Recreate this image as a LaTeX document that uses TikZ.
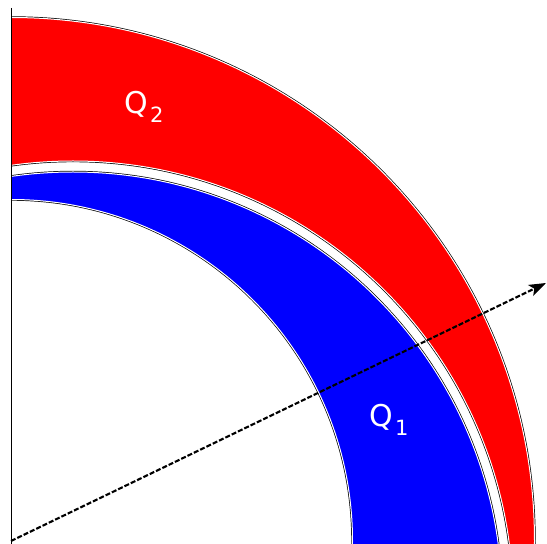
\documentclass[tikz,border=0pt]{standalone}
\usepackage{fontspec}
\setmainfont{DejaVu Sans}
\usetikzlibrary{arrows.meta}
\tikzset{
  edge/.style={draw=black, line width=2.4pt},
  whiteedge/.style={draw=white, line width=1.0pt},
  qlabel/.style={text=white, inner sep=0pt, font=\fontsize{30}{36}\selectfont},
  ray/.style={line width=2.1pt, dash pattern=on 5pt off 2pt, -{Stealth[length=17pt,width=12pt,inset=4pt]}},
}
\newcommand{\qsub}[1]{\hspace{2pt}\raisebox{-9pt}{\fontsize{21}{25}\selectfont #1}}
\begin{document}
\begin{tikzpicture}[x=1pt,y=1pt]
\useasboundingbox (-11,-3) rectangle (536,541);
\coordinate (O) at (0,0);
\coordinate (C) at (62,-60);
\coordinate (axtop) at (0,533);
\coordinate (axbot) at (0,-3);
\coordinate (tip) at (535,258);
\begin{scope}
  \clip (0,-3) rectangle (536,541);
  % outlines
  \path[edge] (O) circle (523.5);
  \path[edge] (C) circle (440);
  \path[edge] (C) circle (429);
  \path[edge] (O) circle (341.5);
  % fills
  \fill[red, even odd rule] (O) circle (523.5) (C) circle (440);
  \fill[blue, even odd rule] (C) circle (429) (O) circle (341.5);
  % inner white lines
  \path[whiteedge] (O) circle (523.5);
  \path[whiteedge] (C) circle (440);
  \path[whiteedge] (C) circle (429);
  \path[whiteedge] (O) circle (341.5);
\end{scope}
\draw[line width=1pt] (axtop) -- (axbot);
\node[qlabel] (q2) at (133,434) {Q\qsub{2}};
\node[qlabel] (q1) at (378,121) {Q\qsub{1}};
\draw[ray] (O) -- (tip);
\end{tikzpicture}
\end{document}
